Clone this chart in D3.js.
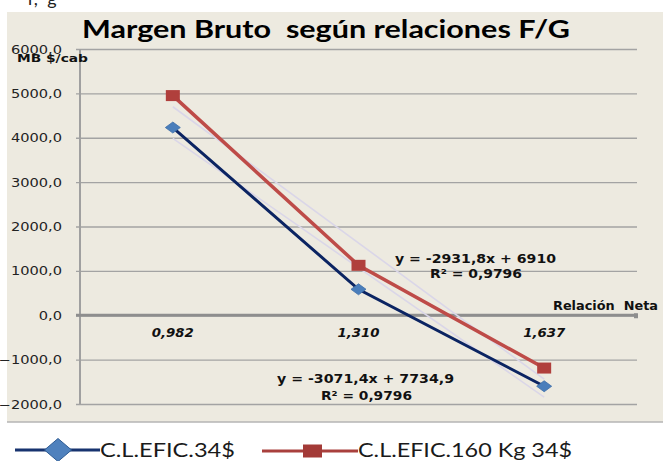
<!DOCTYPE html>
<html><head><meta charset="utf-8">
<script src="https://cdn.jsdelivr.net/npm/d3@7"></script>
<style>html,body{margin:0;padding:0;background:#fff;}svg{display:block;}text{white-space:pre;}</style>
</head><body>
<svg id="c" width="663" height="461"></svg>
<script>
const categories = ["0,982", "1,310", "1,637"];
const seriesNames = ["C.L.EFIC.34$", "C.L.EFIC.160 Kg 34$"];
const efic34 = [4230, 585, -1600];
const efic160 = [4950, 1125, -1190];
const yTicks = [-2000, -1000, 0, 1000, 2000, 3000, 4000, 5000, 6000];
const eqBlue = ["y = -3071,4x + 7734,9", "R² = 0,9796"];
const eqRed = ["y = -2931,8x + 6910", "R² = 0,9796"];
const titleText = "Margen Bruto  según relaciones F/G";
const yTitle = "MB $/cab";
const xTitle = "Relación  Neta";

const svg = d3.select("#c");
const fmt = v => d3.format(".1f")(v).replace(".", ",");

// fragment of previous text at very top
svg.append("text").attr("x", 28).attr("y", 5).attr("font-family", "Lato").attr("font-size", 18)
  .attr("fill", "#222").text("r,  g");

// background panel
svg.append("rect").attr("x", 7).attr("y", 12).attr("width", 656).attr("height", 410).attr("fill", "#EDEAE0");
svg.append("line").attr("x1", 7).attr("x2", 663).attr("y1", 422).attr("y2", 422).attr("stroke", "#B5B5B5").attr("stroke-width", 1.5);

const x = d3.scalePoint().domain(categories).range([80, 637]).padding(0.5);
const y = d3.scaleLinear().domain([-2000, 6000]).range([404, 49]);

function txt(str, x0, yb, width, opts) {
  const t = svg.append("text").attr("x", x0).attr("y", yb)
    .attr("font-family", opts.family || "DejaVu Sans")
    .attr("font-size", opts.size || 12)
    .attr("font-weight", opts.weight || "normal")
    .attr("font-style", opts.style || "normal")
    .attr("fill", opts.fill || "#111")
    .text(str);
  if (width) t.attr("textLength", width).attr("lengthAdjust", "spacingAndGlyphs");
  return t;
}

// gridlines + ticks
const yAxis = d3.axisLeft(y).tickValues(yTicks).tickSize(-(637 - 76)).tickFormat("");
const gy = svg.append("g").attr("transform", "translate(76,0)").call(yAxis);
gy.select(".domain").remove();
gy.selectAll(".tick line").attr("stroke", "#A3A3A3").attr("stroke-width", 1.3);
svg.append("line").attr("x1", 80).attr("x2", 80).attr("y1", y(6000)).attr("y2", y(-2000))
  .attr("stroke", "#A0A0A0").attr("stroke-width", 2);

// y labels
yTicks.forEach(v => {
  svg.append("text").attr("transform", `translate(62,${y(v) + 4.5}) scale(1.27,1)`)
    .attr("text-anchor", "end").attr("font-family", "DejaVu Sans").attr("font-size", 11.5)
    .attr("fill", "#222").text(fmt(v));
});

// x axis at zero
svg.append("line").attr("x1", 76).attr("x2", 637).attr("y1", y(0)).attr("y2", y(0))
  .attr("stroke", "#8E8E8E").attr("stroke-width", 3);
svg.append("rect").attr("x", 634).attr("y", y(0) - 2).attr("width", 4).attr("height", 5).attr("fill", "#8E8E8E");

// x labels
categories.forEach(c => {
  txt(c, x(c) - 21, 337, 42, {weight: "bold", style: "italic", size: 12});
});
txt(xTitle, 553, 310, 105, {weight: "bold", size: 11.5});
txt(yTitle, 17, 62, 71, {weight: "bold", size: 11});

// trendlines (least squares on index positions)
function fit(vals) {
  const xs = vals.map((_, i) => i + 1);
  const mx = d3.mean(xs), my = d3.mean(vals);
  const b = d3.sum(xs.map((xi, i) => (xi - mx) * (vals[i] - my))) / d3.sum(xs.map(xi => (xi - mx) ** 2));
  const a = my - b * mx;
  return xs.map(xi => a + b * xi);
}
[efic160, efic34].forEach(vals => {
  const f = fit(vals);
  svg.append("line").attr("x1", x(categories[0])).attr("y1", y(f[0]))
    .attr("x2", x(categories[2])).attr("y2", y(f[2]))
    .attr("stroke", "#DAD6E8").attr("stroke-width", 1.6);
});

const line = d3.line().x((d, i) => x(categories[i])).y(d => y(d));
svg.append("path").datum(efic34).attr("d", line).attr("fill", "none").attr("stroke", "#0B2462").attr("stroke-width", 3);
svg.append("path").datum(efic160).attr("d", line).attr("fill", "none").attr("stroke", "#BE4B48").attr("stroke-width", 3.5);

// markers
const diamond = (cx, cy, w, h) => `M${cx - w / 2},${cy}L${cx},${cy - h / 2}L${cx + w / 2},${cy}L${cx},${cy + h / 2}Z`;
efic34.forEach((v, i) => {
  svg.append("path").attr("d", diamond(x(categories[i]), y(v), 15, 11)).attr("fill", "#4A7EBB").attr("stroke", "#3F6FA8").attr("stroke-width", 0.8);
});
efic160.forEach((v, i) => {
  svg.append("rect").attr("x", x(categories[i]) - 7).attr("y", y(v) - 5.5).attr("width", 14).attr("height", 11).attr("fill", "#B03F3C");
});

// equations
txt(eqRed[0], 395, 263, 161, {weight: "bold", size: 13});
txt(eqRed[1], 430, 278, 92, {weight: "bold", size: 13});
txt(eqBlue[0], 277, 383, 177, {weight: "bold", size: 13});
txt(eqBlue[1], 321, 400, 91, {weight: "bold", size: 13});

// title
txt(titleText, 82, 38, 488, {family: "Lato", weight: "bold", size: 24, fill: "#000"});

// legend
svg.append("line").attr("x1", 15).attr("x2", 100).attr("y1", 450).attr("y2", 450).attr("stroke", "#17336F").attr("stroke-width", 3);
svg.append("path").attr("d", diamond(58, 450, 27, 23)).attr("fill", "#4F81BD").attr("stroke", "#2F5C94").attr("stroke-width", 1);
txt(seriesNames[0], 100, 457, 135, {family: "Lato", size: 20, fill: "#1a1a1a"});
svg.append("line").attr("x1", 262).attr("x2", 358).attr("y1", 451).attr("y2", 451).attr("stroke", "#A9403D").attr("stroke-width", 3);
svg.append("rect").attr("x", 303).attr("y", 444.5).attr("width", 19).attr("height", 13).attr("fill", "#A33A37");
txt(seriesNames[1], 358, 457, 214, {family: "Lato", size: 20, fill: "#1a1a1a"});
</script>
</body></html>
